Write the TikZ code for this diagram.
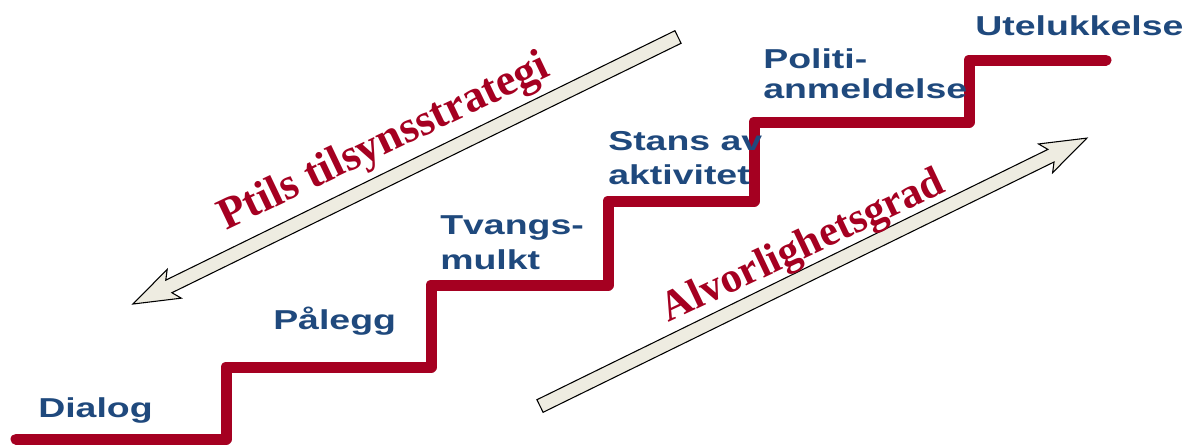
\documentclass[tikz,border=0pt]{standalone}
\usepackage{fontspec}
\setmainfont{Liberation Serif}
\newfontfamily\labelfont[FakeStretch=1.37]{Liberation Sans}
\definecolor{stairred}{RGB}{165,0,33}
\definecolor{labelblue}{RGB}{31,73,125}
\definecolor{arrowfill}{RGB}{238,236,225}
\newcommand\twoline[3]{\vtop{\baselineskip=#3\hbox{#1}\hbox{#2}}}
\begin{document}
\begin{tikzpicture}[x=0.75pt,y=0.75pt,
  stairs/.style={line width=8.25pt, draw=stairred, line cap=round, line join=round},
  steplabel/.style={font={\labelfont\bfseries\fontsize{20.5pt}{24pt}\selectfont}, text=labelblue, anchor=base west, inner sep=0pt},
  slogan/.style={font={\bfseries\fontsize{32pt}{36pt}\selectfont}, text=stairred, anchor=base, inner sep=0pt},
  arrowbody/.style={fill=arrowfill, draw=black, line width=0.8pt, line join=miter}]
\useasboundingbox (0,0) rectangle (1198,444);
\fill[white] (0,0) rectangle (1198,444);

% arrows
\coordinate (upTail) at (678,407);
\coordinate (loTail) at (540,38);
\begin{scope}[shift={(upTail)}, rotate=206.1]
  \path[arrowbody] (0,-7) -- (567,-7) -- (561,-16) -- (607,0) -- (561,16) -- (567,7) -- (0,7) -- cycle;
\end{scope}
\begin{scope}[shift={(loTail)}, rotate=26.1]
  \path[arrowbody] (0,-7) -- (569,-7) -- (563,-16) -- (609,0) -- (563,16) -- (569,7) -- (0,7) -- cycle;
\end{scope}

% staircase
\coordinate (s0) at (16,5);
\coordinate (s1) at (226,5);
\coordinate (s2) at (226,77);
\coordinate (s3) at (431,77);
\coordinate (s4) at (431,159);
\coordinate (s5) at (608,159);
\coordinate (s6) at (608,243);
\coordinate (s7) at (754,243);
\coordinate (s8) at (754,322);
\coordinate (s9) at (969,322);
\coordinate (s10) at (969,384);
\coordinate (s11) at (1106,384);
\draw[stairs] (s0) -- (s1) -- (s2) -- (s3) -- (s4) -- (s5) -- (s6) -- (s7) -- (s8) -- (s9) -- (s10) -- (s11);

% slogans
\node[slogan, rotate=25.5, font={\bfseries\fontsize{33.5pt}{37pt}\selectfont}] (ptil) at (389,291) {Ptils tilsynsstrategi};
\node[slogan, rotate=25.3] (alv) at (808,187) {Alvorlighetsgrad};

% step labels
\node[steplabel] (dialog) at (38,27) {Dialog};
\node[steplabel] (palegg) at (273,115) {Pålegg};
\node[steplabel] (tvang) at (440,210) {\twoline{Tvangs-}{mulkt}{26.6pt}};
\node[steplabel] (stans) at (608,294) {\twoline{Stans av}{aktivitet}{25.5pt}};
\node[steplabel] (politi) at (763,376) {\twoline{Politi-}{anmeldelse}{22.5pt}};
\node[steplabel] (utel) at (975,408) {Utelukkelse};
\end{tikzpicture}
\end{document}
